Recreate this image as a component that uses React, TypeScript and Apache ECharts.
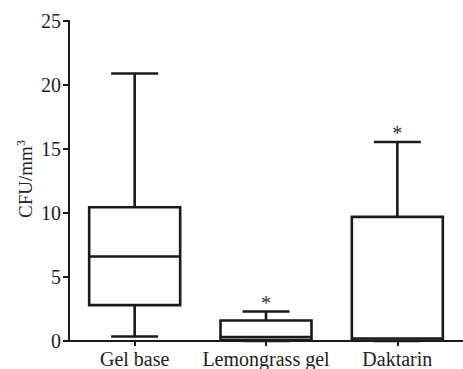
import React, { useEffect, useRef } from "react";
import * as echarts from "echarts";

const categories = ["Gel base", "Lemongrass gel", "Daktarin"];
const mins = [0.35, 0.0, 0.0];
const q1s = [2.8, 0.05, 0.02];
const medians = [6.6, 0.3, 0.2];
const q3s = [10.45, 1.6, 9.7];
const maxs = [20.9, 2.3, 15.55];
const significance = ["", "*", "*"];
const yMin = 0;
const yMax = 25;
const yInterval = 5;

const FONT = "Liberation Serif, serif";
const INK = "#1a1a1a";

export default function App() {
  const ref = useRef<HTMLDivElement>(null);

  useEffect(() => {
    if (!ref.current) return;
    const chart = echarts.init(ref.current, null, { renderer: "svg" });

    const data = categories.map((_, i) => [
      i,
      mins[i],
      q1s[i],
      medians[i],
      q3s[i],
      maxs[i],
    ]);

    const renderItem = (params: any, api: any) => {
      const idx = api.value(0);
      const pMin = api.coord([idx, api.value(1)]);
      const pQ1 = api.coord([idx, api.value(2)]);
      const pMed = api.coord([idx, api.value(3)]);
      const pQ3 = api.coord([idx, api.value(4)]);
      const pMax = api.coord([idx, api.value(5)]);
      const cx = pMin[0];
      const boxHalf = 45.5;
      const capHalf = 23.5;
      const lineStyle = { stroke: INK, lineWidth: 2.6, fill: null };
      const children: any[] = [
        { type: "line", shape: { x1: cx, y1: pMax[1], x2: cx, y2: pQ3[1] }, style: lineStyle },
        { type: "line", shape: { x1: cx, y1: pQ1[1], x2: cx, y2: pMin[1] }, style: lineStyle },
        { type: "line", shape: { x1: cx - capHalf, y1: pMax[1], x2: cx + capHalf, y2: pMax[1] }, style: lineStyle },
        { type: "line", shape: { x1: cx - capHalf, y1: pMin[1], x2: cx + capHalf, y2: pMin[1] }, style: lineStyle },
        {
          type: "rect",
          shape: { x: cx - boxHalf, y: pQ3[1], width: boxHalf * 2, height: pQ1[1] - pQ3[1] },
          style: { stroke: INK, lineWidth: 2.6, fill: "#ffffff" },
        },
        { type: "line", shape: { x1: cx - boxHalf, y1: pMed[1], x2: cx + boxHalf, y2: pMed[1] }, style: lineStyle },
      ];
      const sig = significance[idx];
      if (sig) {
        children.push({
          type: "text",
          x: cx,
          y: pMax[1] - 19,
          style: {
            text: sig,
            fontSize: 20,
            fontFamily: FONT,
            fill: "#333",
            align: "center",
            verticalAlign: "top",
          },
        });
      }
      return { type: "group", children };
    };

    chart.setOption({
      animation: false,
      backgroundColor: "#ffffff",
      grid: { left: 69, right: -11, top: 21, bottom: 27.3, containLabel: false },
      xAxis: {
        type: "category",
        data: categories,
        boundaryGap: true,
        axisLine: { show: true, lineStyle: { color: INK, width: 2 } },
        axisTick: { show: true, alignWithLabel: true, length: 5, lineStyle: { color: INK, width: 2 } },
        axisLabel: { color: "#222", fontSize: 20, fontFamily: FONT, margin: 8, interval: 0, hideOverlap: false },
        splitLine: { show: false },
      },
      yAxis: {
        type: "value",
        min: yMin,
        max: yMax,
        interval: yInterval,
        axisLine: { show: true, lineStyle: { color: INK, width: 2 } },
        axisTick: { show: true, length: 6, lineStyle: { color: INK, width: 2 } },
        axisLabel: { color: "#222", fontSize: 20, fontFamily: FONT, margin: 8 },
        splitLine: { show: false },
      },
      graphic: [
        {
          type: "text",
          x: 25,
          y: 179,
          rotation: Math.PI / 2,
          style: {
            text: "{a|CFU/mm}{s|3}",
            align: "center",
            verticalAlign: "middle",
            fill: "#222",
            rich: {
              a: { fontSize: 19, fontFamily: FONT, fill: "#222", lineHeight: 21 },
              s: { fontSize: 12, fontFamily: FONT, fill: "#222", verticalAlign: "top", lineHeight: 21 },
            },
          },
        },
      ],
      series: [
        {
          type: "custom",
          renderItem,
          data,
          encode: { x: 0, y: [1, 2, 3, 4, 5] },
          clip: false,
        },
      ],
    });

    return () => chart.dispose();
  }, []);

  return (
    <div
      ref={ref}
      style={{ position: "absolute", left: 0, top: 0, width: 463, height: 369 }}
    />
  );
}
